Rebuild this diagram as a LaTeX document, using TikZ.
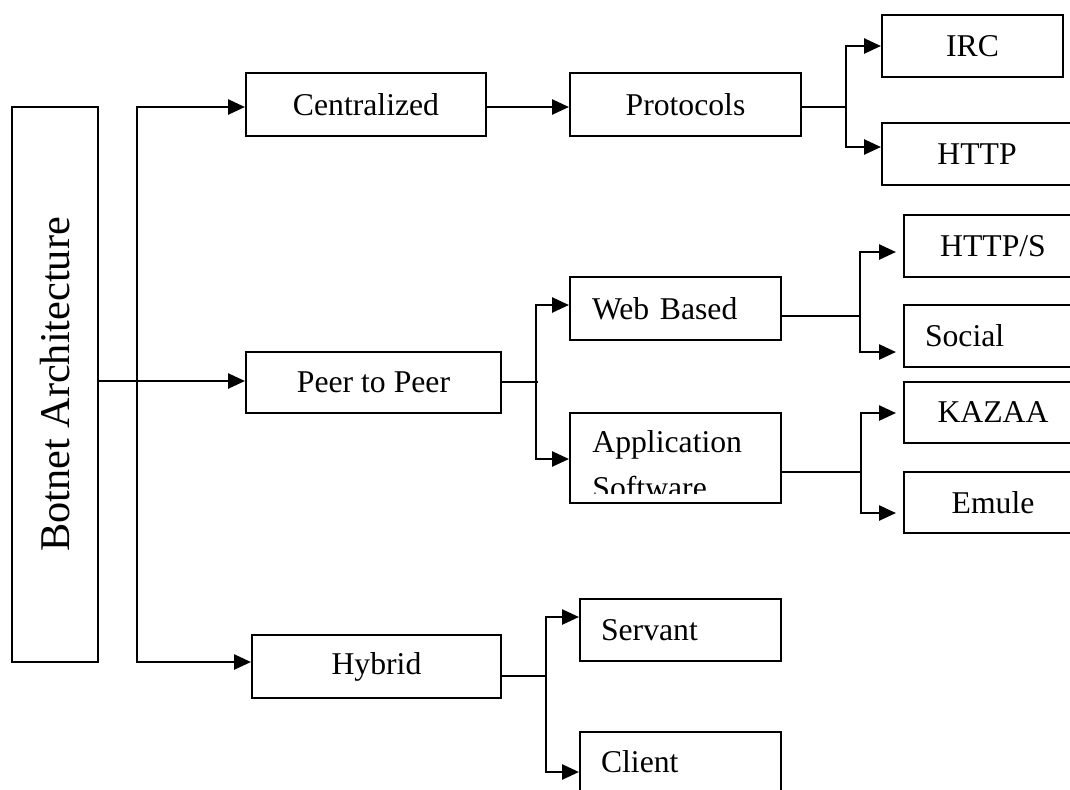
\documentclass[tikz,border=0pt]{standalone}
\usepackage{fontspec}
\setmainfont{Liberation Serif}
\usepackage{graphicx}
\usetikzlibrary{arrows.meta}
\newcommand\txtf{\fontsize{15.85pt}{19pt}\selectfont}
\newcommand\bigtxtf{\fontsize{21.15pt}{25pt}\selectfont}
\begin{document}
\begin{tikzpicture}[x=0.5pt,y=-0.5pt,
  bx/.style 2 args={draw, line width=1pt, inner sep=0pt,
    minimum width=#1*0.5pt, minimum height=#2*0.5pt, font=\txtf},
  bxl/.style n args={4}{bx={#1}{#2}, text width=#3, inner xsep=#4, align=left},
  arr/.style={line width=1.3pt, line cap=rect, -{Triangle[length=8.5pt,width=7.5pt]}},
  ln/.style={line width=0.9pt}]
\useasboundingbox (0,0) rectangle (1070,789);
\clip (0,0) rectangle (1070,789);

% boxes
\node[bx={86}{555}, font=\bigtxtf] (botnet) at (55,384.5) {\rotatebox{90}{Botnet Architecture}};
\node[bx={240}{63}] (cent) at (366,104.5) {Centralized};
\node[bx={231}{63}] (prot) at (685.5,104.5) {Protocols};
\node[bx={181}{62}] (irc) at (972.5,46) {IRC};
\node[bx={190}{62}] (http) at (977,154) {HTTP};
\node[bx={255}{61}] (peer) at (373.5,382.5) {Peer to Peer};
\node[bxl={211}{63}{83.5pt}{11pt}] (web) at (675.5,308.5) {Web Based};
\node[bx={211}{90}] (app) at (675.5,458) {};
\begin{scope}
  \clip (app.north west) rectangle (app.east |- 0,493);
  \node[anchor=base west, inner sep=0pt, font=\txtf] (appA) at (592,452) {Application};
  \node[anchor=base west, inner sep=0pt, font=\txtf] (appB) at (592,498) {Software};
\end{scope}
\node[bx={178}{62}] (https) at (993,246) {HTTP/S};
\node[bxl={178}{62}{68pt}{10.5pt}] (social) at (993,336) {Social};
\node[bx={178}{61}] (kazaa) at (993,412.5) {KAZAA};
\node[bx={178}{61}] (emule) at (993,502.5) {Emule};
\node[bx={249}{63}] (hybrid) at (376.5,666.5) {Hybrid};
\node[bxl={201}{62}{79.5pt}{10.5pt}] (servant) at (680.5,630) {Servant};
\node[bxl={201}{60}{79.5pt}{10.5pt}] (client) at (680.5,762) {Client};

% branch points
\coordinate (tA) at (137,107);
\coordinate (tB) at (137,662);
\coordinate (f1) at (846,107);
\coordinate (f2) at (536,382);
\coordinate (f2e) at (538,382);
\coordinate (f3) at (860,316);
\coordinate (f4) at (861,472);
\coordinate (f5) at (546,676);

% first level
\draw[arr] (tB) -- (tA) -- (tA -| cent.west);
\draw[arr] (tB) -- (tB -| hybrid.west);
\draw[arr] (botnet.east |- 0,381) -- (peer.west |- 0,381);

% centralized branch
\draw[arr] (cent.east |- tA) -- (prot.west |- tA);
\draw[ln] (prot.east |- f1) -- (f1);
\draw[arr] (f1) |- (irc.west);
\draw[arr] (f1) |- (http.west |- 0,147);

% peer to peer branch
\draw[ln] (peer.east |- f2) -- (f2e);
\draw[arr] (f2) |- (web.west |- 0,305);
\draw[arr] (f2) |- (app.west |- 0,459);
\draw[ln] (web.east |- f3) -- (f3);
\draw[arr, shorten >=3.5pt] (f3) |- (https.west |- 0,252);
\draw[arr, shorten >=3.5pt] (f3) |- (social.west |- 0,352);
\draw[ln] (app.east |- f4) -- (f4);
\draw[arr, shorten >=3.5pt] (f4) |- (kazaa.west |- 0,413);
\draw[arr, shorten >=3.5pt] (f4) |- (emule.west |- 0,513);

% hybrid branch
\draw[ln] (hybrid.east |- f5) -- (f5);
\draw[arr] (f5) |- (servant.west |- 0,617);
\draw[arr] (f5) |- (client.west |- 0,772);
\end{tikzpicture}
\end{document}
